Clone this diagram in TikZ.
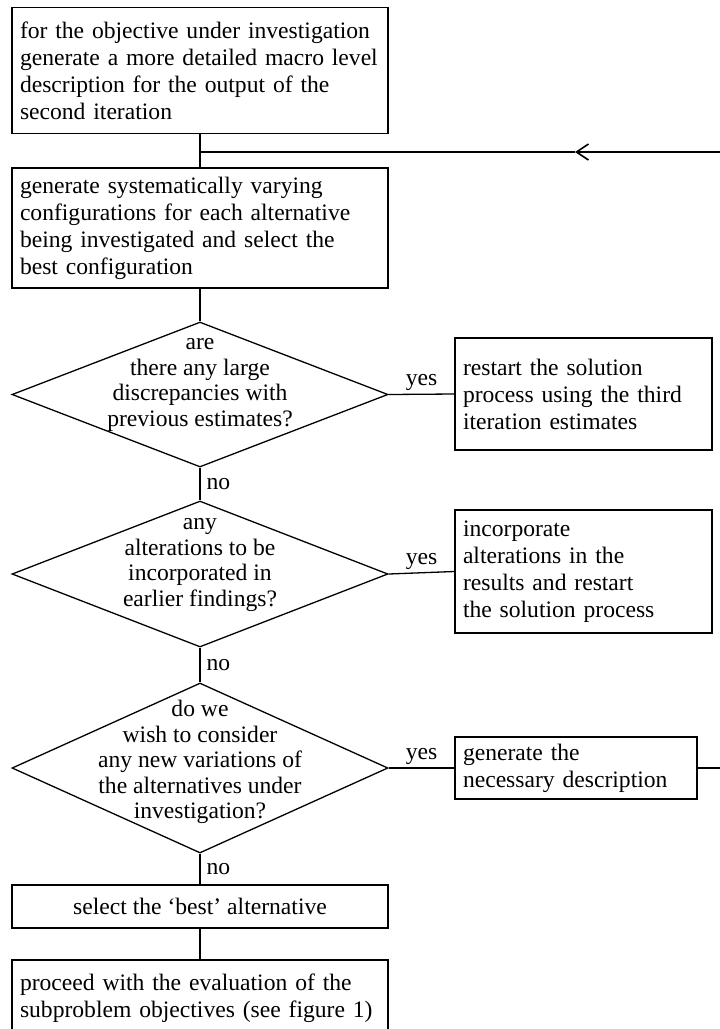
\documentclass[tikz,border=0pt]{standalone}
\usepackage{fontspec}
\setmainfont{Liberation Serif}
\usetikzlibrary{shapes.geometric,arrows.meta}
\begin{document}
\begin{tikzpicture}[x=1pt,y=-1pt,
  every node/.style={font=\fontsize{23.6}{27}\selectfont},
  stepbox/.style={draw, line width=1.3pt, rectangle, inner xsep=8pt, inner ysep=0pt, align=left},
  decision/.style={draw, line width=1.3pt, diamond, inner sep=0pt},
  qtext/.style={align=center, inner sep=0pt, font=\fontsize{23.6}{25.5}\selectfont},
  link/.style={line width=1.3pt},
  ans/.style={inner sep=2pt}]
\useasboundingbox (0,0) rectangle (720,1029);
\clip (0,0) rectangle (720,1029);

% main column
\node[stepbox, minimum width=376pt, minimum height=126pt, text width=360pt] (b1) at (200,70.5)
  {for the objective under investigation\\generate a more detailed macro level\\description for the output of the\\second iteration};
\node[stepbox, minimum width=376pt, minimum height=120pt, text width=360pt] (b2) at (200,228)
  {generate systematically varying\\configurations for each alternative\\being investigated and select the\\best configuration};

\node[decision, minimum width=376pt, minimum height=145pt] (d1) at (200,394.5) {};
\node[qtext] at (200,385) {are\\there any large\\discrepancies with\\previous estimates?};

\node[decision, minimum width=376pt, minimum height=146pt] (d2) at (200,574) {};
\node[qtext] at (200,565) {any\\alterations to be\\incorporated in\\earlier findings?};

\node[decision, minimum width=376pt, minimum height=170pt] (d3) at (200,768) {};
\node[qtext] at (200,762) {do we\\wish to consider\\any new variations of\\the alternatives under\\investigation?};

\node[stepbox, align=center, minimum width=376pt, minimum height=43pt] (sel) at (200,906.5)
  {select the `best' alternative};
\node[stepbox, minimum width=376pt, minimum height=77pt, text width=360pt] (fin) at (200,998.5)
  {proceed with the evaluation of the\\subproblem objectives (see figure 1)};

% side boxes
\node[stepbox, minimum width=257pt, minimum height=112pt, text width=241pt] (b3) at (583.5,394)
  {restart the solution\\process using the third\\iteration estimates};
\node[stepbox, minimum width=257pt, minimum height=123pt, text width=241pt] (b4) at (583.5,571.5)
  {incorporate\\alterations in the\\results and restart\\the solution process};
\node[stepbox, minimum width=242pt, minimum height=62pt, text width=226pt] (b5) at (576,768)
  {generate the\\necessary description};

% connectors
\coordinate (j) at (200,152);
\coordinate (tip) at (575,152);
\coordinate (fbT) at (720,152);
\coordinate (fbR) at (720,768);

\draw[link] (b1) -- (b2);
\draw[link] (b2) -- (d1.north);
\draw[link] (d1.south) -- node[ans, right=4pt] {no} (d2.north);
\draw[link] (d2.south) -- node[ans, right=4pt] {no} (d3.north);
\draw[link] (d3.south) -- node[ans, right=4pt] {no} (sel.north);
\draw[link] (sel) -- (fin);

\draw[link] (d1.east) -- node[ans, above=1pt] {yes} (b3.west);
\draw[link] (d2.east) -- node[ans, above=1pt] {yes} (b4.west);
\draw[link] (d3.east) -- node[ans, above=1pt] {yes} (b5.west);

\draw[link] (b5.east) -- (fbR);
\draw[link, -{Straight Barb[length=12pt, width=16pt, line width=1.6pt]}] (fbT) -- (tip);
\draw[link] (tip) -- (j);
\end{tikzpicture}
\end{document}
